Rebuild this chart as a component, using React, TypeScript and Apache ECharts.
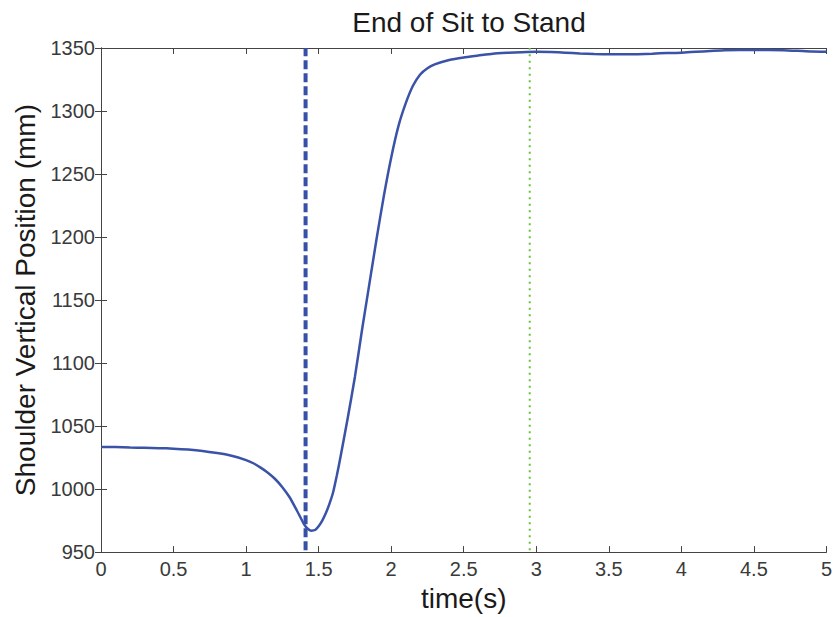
import React, { useEffect, useRef } from "react";
import * as echarts from "echarts";

const timeValues = [0, 0.1, 0.2, 0.3, 0.4, 0.5, 0.6, 0.7, 0.8, 0.9, 1.0, 1.05, 1.1, 1.15, 1.2, 1.25, 1.3, 1.35, 1.4, 1.425, 1.45, 1.475, 1.5, 1.525, 1.55, 1.575, 1.6, 1.625, 1.65, 1.7, 1.75, 1.8, 1.85, 1.9, 1.95, 2.0, 2.05, 2.1, 2.15, 2.2, 2.25, 2.3, 2.4, 2.5, 2.6, 2.7, 2.8, 2.9, 3.0, 3.1, 3.2, 3.3, 3.4, 3.5, 3.6, 3.7, 3.8, 3.9, 4.0, 4.1, 4.2, 4.3, 4.4, 4.5, 4.6, 4.7, 4.8, 4.9, 5.0];
const shoulderValues = [1033.4, 1033.3, 1033.0, 1032.8, 1032.5, 1032.1, 1031.4, 1030.3, 1028.6, 1026.5, 1023.0, 1020.5, 1017.0, 1013.0, 1008.0, 1001.5, 993.5, 983.0, 972.0, 968.5, 967.0, 967.5, 970.5, 975.0, 981.0, 988.5, 997.5, 1010.5, 1025.0, 1056.0, 1089.0, 1127.0, 1163.0, 1199.0, 1233.0, 1263.0, 1288.0, 1306.0, 1320.0, 1329.0, 1334.0, 1337.0, 1340.5, 1342.5, 1344.0, 1345.5, 1346.2, 1346.7, 1347.0, 1346.8, 1346.3, 1345.6, 1345.2, 1345.0, 1345.0, 1345.1, 1345.5, 1346.0, 1346.3, 1347.0, 1347.6, 1348.2, 1348.4, 1348.4, 1348.4, 1348.3, 1347.8, 1347.2, 1347.0];
const startMarkerTime = 1.41;
const endMarkerTime = 2.955;
const markerYRange = [951.5, 1350];

const FONT = "'Liberation Sans', Arial, Helvetica, sans-serif";

export default function App() {
  const ref = useRef<HTMLDivElement>(null);
  useEffect(() => {
    if (!ref.current) return;
    const chart = echarts.init(ref.current, undefined, { renderer: "svg" });
    const curve = timeValues.map((t, i) => [t, shoulderValues[i]]);
    const axisLine = { show: true, lineStyle: { color: "#444", width: 1 } };
    const tickIn = { show: true, inside: true, length: 6, lineStyle: { color: "#444" } };
    chart.setOption({
      animation: false,
      backgroundColor: "#fff",
      title: {
        text: "End of Sit to Stand",
        left: 464,
        textAlign: "center",
        top: 3,
        textStyle: { fontFamily: FONT, fontSize: 28, fontWeight: "normal", color: "#1a1a1a" },
      },
      grid: { left: 101, right: 8, top: 48, bottom: 64, containLabel: false },
      xAxis: [
        {
          type: "value",
          min: 0,
          max: 5,
          interval: 0.5,
          name: "time(s)",
          nameLocation: "middle",
          nameGap: 27,
          nameTextStyle: { fontFamily: FONT, fontSize: 28, color: "#1a1a1a" },
          axisLine,
          axisTick: tickIn,
          splitLine: { show: false },
          axisLabel: { fontFamily: FONT, fontSize: 20, color: "#3a3a3a", margin: 7 },
        },
        {
          type: "value",
          position: "top",
          min: 0,
          max: 5,
          interval: 0.5,
          axisLine,
          axisTick: tickIn,
          splitLine: { show: false },
          axisLabel: { show: false },
        },
      ],
      yAxis: [
        {
          type: "value",
          min: 950,
          max: 1350,
          interval: 50,
          name: "Shoulder Vertical Position (mm)",
          nameLocation: "middle",
          nameGap: 60,
          nameTextStyle: { fontFamily: FONT, fontSize: 28, color: "#1a1a1a" },
          axisLine,
          axisTick: tickIn,
          splitLine: { show: false },
          axisLabel: {
            fontFamily: FONT,
            fontSize: 20,
            color: "#3a3a3a",
            margin: 6,
            formatter: (v: number) => String(v),
          },
        },
        {
          type: "value",
          position: "right",
          min: 950,
          max: 1350,
          interval: 50,
          axisLine,
          axisTick: tickIn,
          splitLine: { show: false },
          axisLabel: { show: false },
        },
      ],
      series: [
        {
          type: "line",
          data: [[startMarkerTime, markerYRange[0]], [startMarkerTime, markerYRange[1]]],
          showSymbol: false,
          lineStyle: { color: "#3550a6", width: 4, type: [9, 4] },
          silent: true,
          z: 3,
        },
        {
          type: "line",
          data: [[endMarkerTime, markerYRange[0]], [endMarkerTime, markerYRange[1]]],
          showSymbol: false,
          lineStyle: { color: "#66c43a", width: 2, type: [2, 4.5] },
          silent: true,
          z: 3,
        },
        {
          type: "line",
          data: curve,
          showSymbol: false,
          smooth: 0.2,
          lineStyle: { color: "#3a52a8", width: 2.5 },
          z: 4,
        },
      ],
    });
    return () => chart.dispose();
  }, []);
  return <div ref={ref} style={{ width: 835, height: 617, position: "absolute", left: 0, top: 0 }} />;
}
